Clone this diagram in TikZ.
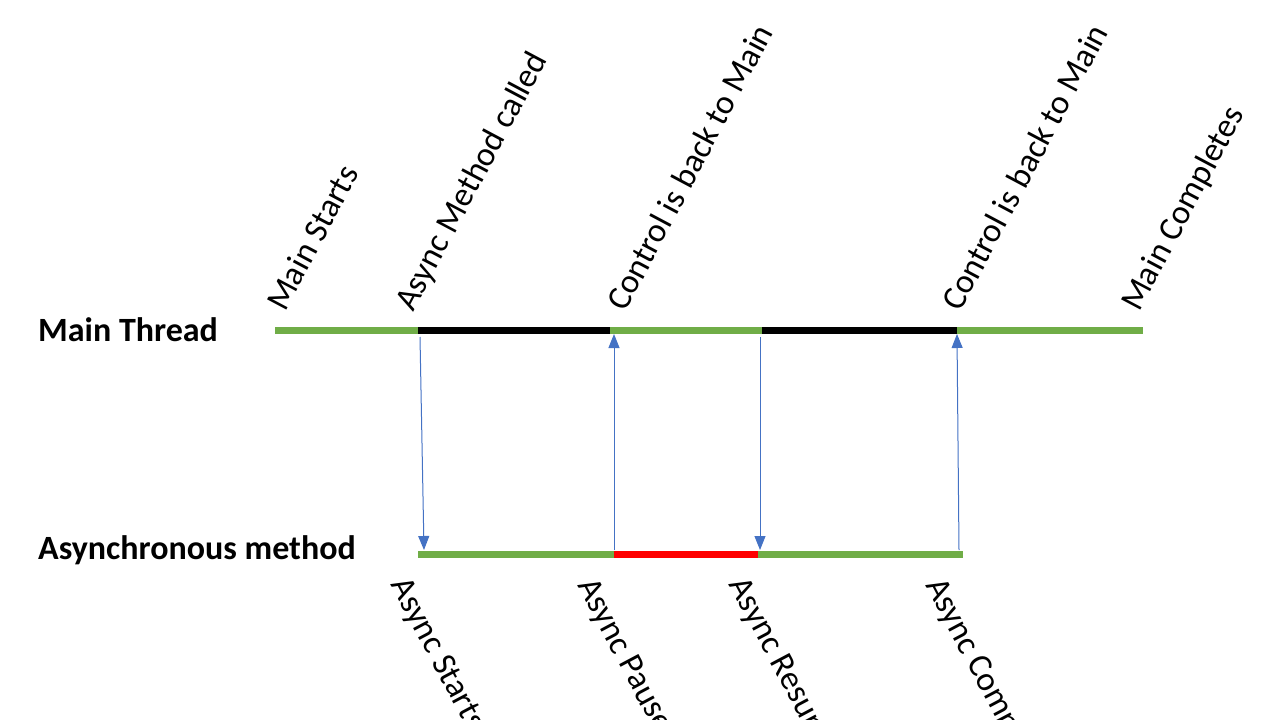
\documentclass[tikz,border=0pt]{standalone}
\usepackage{fontspec}
\setmainfont{Carlito}
\usetikzlibrary{arrows.meta}
\definecolor{gr}{HTML}{70AD47}
\definecolor{bl}{HTML}{4472C4}
\tikzset{seg/.style={line width=7pt},
  conn/.style={bl,line width=1pt,-{Triangle[length=14pt,width=11pt]}},
  toplab/.style={rotate=62,anchor=base west,font=\fontsize{34}{40}\selectfont,inner sep=0pt},
  botlab/.style={rotate=-62,anchor=north west,font=\fontsize{34}{40}\selectfont,inner sep=0pt},
  title/.style={font=\bfseries\fontsize{34}{40}\selectfont,anchor=west,inner sep=0pt}}
\begin{document}
\begin{tikzpicture}[x=1pt,y=-1pt]
\useasboundingbox (0,0) rectangle (1280,720);
\clip (0,0) rectangle (1280,720);
\node[title] (mt) at (38,330) {Main Thread};
\node[title] (am) at (38,550) {Asynchronous method};
\coordinate (m0) at (275,330); \coordinate (m1) at (418,330); \coordinate (m2) at (610,330);
\coordinate (m3) at (762,330); \coordinate (m4) at (957,330); \coordinate (m5) at (1143,330);
\coordinate (a0) at (418,554); \coordinate (a1) at (614,554); \coordinate (a2) at (758,554); \coordinate (a3) at (963,554);
\draw[seg,gr] (m0)--(m1); \draw[seg,black] (m1)--(m2); \draw[seg,gr] (m2)--(m3);
\draw[seg,black] (m3)--(m4); \draw[seg,gr] (m4)--(m5);
\draw[seg,gr] (a0)--(a1); \draw[seg,red] (a1)--(a2); \draw[seg,gr] (a2)--(a3);
\coordinate (d1s) at (420,337); \coordinate (d1e) at (424,550);
\coordinate (u1s) at (614,550); \coordinate (u1e) at (614,334);
\coordinate (d2s) at (760,337); \coordinate (d2e) at (760,550);
\coordinate (u2s) at (959,550); \coordinate (u2e) at (957,334);
\draw[conn] (d1s)--(d1e); \draw[conn] (u1s)--(u1e);
\draw[conn] (d2s)--(d2e); \draw[conn] (u2s)--(u2e);
\node[toplab] (t1) at (285,313) {Main Starts};
\node[toplab] (t2) at (413,313) {Async Method called};
\node[toplab] (t3) at (625,313) {Control is back to Main};
\node[toplab] (t4) at (960,313) {Control is back to Main};
\node[toplab] (t5) at (1139,313) {Main Completes};
\node[botlab] (b1) at (410,574) {Async Starts};
\node[botlab] (b2) at (598,574) {Async Paused};
\node[botlab] (b3) at (748,574) {Async Resumes};
\node[botlab] (b4) at (946,574) {Async Completes};
\end{tikzpicture}
\end{document}
